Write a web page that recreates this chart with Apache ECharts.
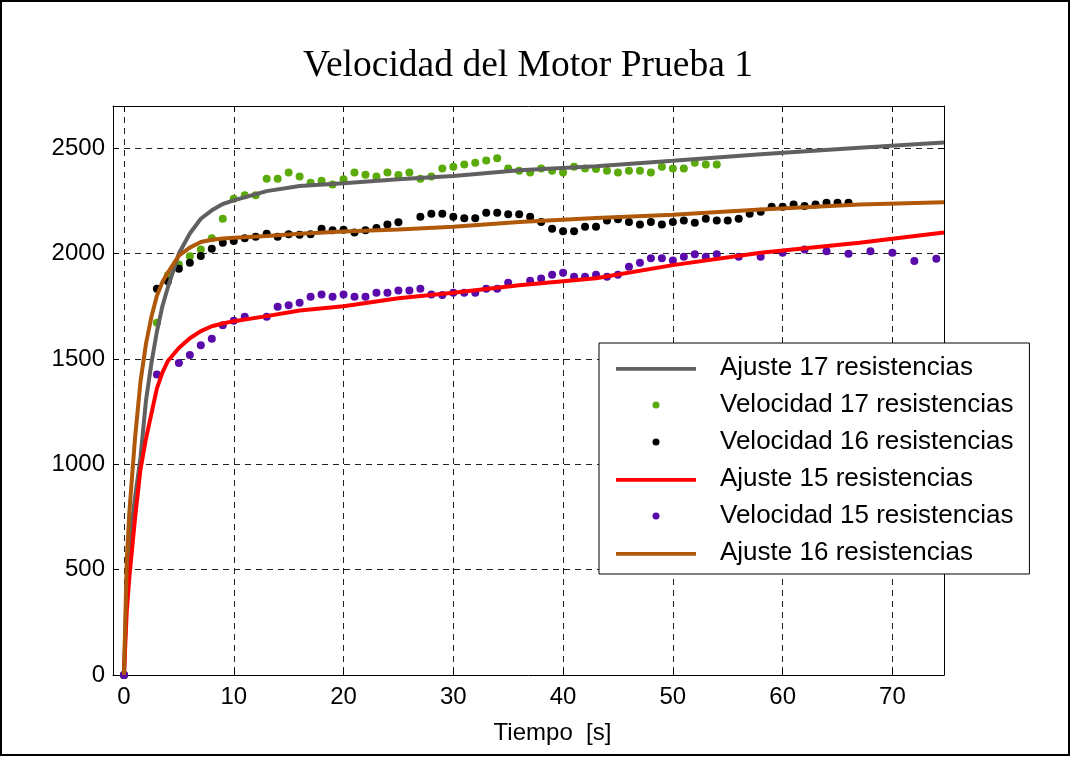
<!DOCTYPE html>
<html>
<head>
<meta charset="utf-8">
<script src="https://cdn.jsdelivr.net/npm/echarts@6/dist/echarts.min.js"></script>
<style>
  html, body { margin: 0; padding: 0; background: #fff; }
  #chart { width: 1071px; height: 757px; }
</style>
</head>
<body>
<div id="chart"></div>
<script>
// fitted curves (Ajuste), sampled at fitTime
const fitTime = [0, 0.25, 0.5, 1, 1.5, 2, 2.5, 3, 3.5, 4, 5, 6, 7, 8, 9, 10, 13, 16, 20, 25, 30, 36, 43, 50, 58, 67, 74.7]
const fit17 = [0, 430, 620, 840, 1030, 1300, 1480, 1630, 1750, 1840, 2000, 2095, 2165, 2205, 2235, 2252, 2296, 2320, 2334, 2352, 2368, 2395, 2414, 2440, 2471, 2502, 2527]
const fit16 = [0, 540, 780, 1120, 1390, 1570, 1700, 1800, 1865, 1910, 1990, 2028, 2055, 2065, 2071, 2075, 2083, 2094, 2104, 2114, 2127, 2149, 2169, 2184, 2209, 2233, 2243]
const fit15 = [0, 300, 470, 740, 975, 1120, 1240, 1360, 1435, 1490, 1552, 1598, 1632, 1655, 1668, 1679, 1703, 1730, 1750, 1788, 1814, 1849, 1883, 1945, 2004, 2051, 2100]

// measured speeds (Velocidad)
const vel17Time = [0, 3, 4, 5, 6, 7, 8, 9, 10, 11, 12, 13, 14, 15, 16, 17, 18, 19, 20, 21, 22, 23, 24, 25, 26, 27, 28, 29, 30, 31, 32, 33, 34, 35, 36, 37, 38, 39, 40, 41, 42, 43, 44, 45, 46, 47, 48, 49, 50, 51, 52, 53, 54]
const vel17 = [0, 1671, 1897, 1948, 1987, 2019, 2072, 2165, 2260, 2277, 2277, 2355, 2355, 2385, 2365, 2336, 2345, 2327, 2353, 2384, 2374, 2365, 2384, 2372, 2384, 2355, 2366, 2403, 2412, 2422, 2431, 2441, 2452, 2404, 2393, 2384, 2404, 2393, 2384, 2412, 2403, 2401, 2393, 2384, 2393, 2393, 2384, 2412, 2404, 2403, 2431, 2422, 2422]

const vel16Time = [0, 3, 4, 5, 6, 7, 8, 9, 10, 11, 12, 13, 14, 15, 16, 17, 18, 19, 20, 21, 22, 23, 24, 25, 27, 28, 29, 30, 31, 32, 33, 34, 35, 36, 37, 38, 39, 40, 41, 42, 43, 44, 45, 46, 47, 48, 49, 50, 51, 52, 53, 54, 55, 56, 57, 58, 59, 60, 61, 62, 63, 64, 65, 66]
const vel16 = [0, 1833, 1869, 1928, 1956, 1988, 2023, 2051, 2059, 2072, 2080, 2094, 2080, 2092, 2089, 2091, 2118, 2110, 2113, 2100, 2111, 2121, 2138, 2148, 2175, 2189, 2189, 2175, 2167, 2167, 2194, 2194, 2186, 2186, 2175, 2149, 2118, 2106, 2106, 2127, 2127, 2157, 2163, 2149, 2138, 2149, 2138, 2149, 2157, 2146, 2165, 2157, 2157, 2165, 2189, 2198, 2222, 2222, 2233, 2225, 2233, 2241, 2241, 2241]

const vel15Time = [0, 3, 5, 6, 7, 8, 9, 10, 11, 13, 14, 15, 16, 17, 18, 19, 20, 21, 22, 23, 24, 25, 26, 27, 28, 29, 30, 31, 32, 33, 34, 35, 37, 38, 39, 40, 41, 42, 43, 44, 45, 46, 47, 48, 49, 50, 51, 52, 53, 54, 56, 58, 60, 62, 64, 66, 68, 70, 72, 74]
const vel15 = [0, 1426, 1481, 1518, 1565, 1595, 1660, 1681, 1700, 1700, 1747, 1755, 1766, 1795, 1806, 1795, 1806, 1795, 1795, 1814, 1814, 1825, 1825, 1833, 1806, 1803, 1814, 1814, 1814, 1833, 1833, 1861, 1871, 1882, 1899, 1909, 1890, 1890, 1899, 1890, 1899, 1937, 1956, 1977, 1977, 1967, 1985, 1996, 1985, 1996, 1985, 1985, 2004, 2019, 2011, 1999, 2011, 2004, 1964, 1975]

const xTicks = [0, 10, 20, 30, 40, 50, 60, 70]
const yTicks = [0, 500, 1000, 1500, 2000, 2500]

const names = [
	'Ajuste 17 resistencias',
	'Velocidad 17 resistencias',
	'Velocidad 16 resistencias',
	'Ajuste 15 resistencias',
	'Velocidad 15 resistencias',
	'Ajuste 16 resistencias'
]

const pair = (xs, ys) => xs.map((x, i) => [x, ys[i]])

const sans = 'Liberation Sans, Arial, sans-serif'
const gridLine = { show: true, lineStyle: { color: '#222', type: [6, 5], width: 1 } }
const inTick = { show: true, inside: true, length: 6, lineStyle: { color: '#000' } }
// thin bar for the fit entries in the legend (first point keeps the box 7px tall)
const lineIcon = 'path://M0,0L0,0ZM0,1.6L80,1.6L80,5.4L0,5.4Z'

const lineSeries = (name, ys, color) => ({
	name, type: 'line', data: pair(fitTime, ys), symbol: 'none',
	lineStyle: { color, width: 4 }, itemStyle: { color }
})
const dotSeries = (name, xs, ys, color) => ({
	name, type: 'scatter', data: pair(xs, ys), symbol: 'circle', symbolSize: 8,
	itemStyle: { color, opacity: 1 }
})

const chart = echarts.init(document.getElementById('chart'))
chart.setOption({
	animation: false,
	backgroundColor: '#fff',
	title: {
		text: 'Velocidad del Motor Prueba 1',
		left: 523, top: 42, textAlign: 'center',
		textStyle: { fontFamily: 'Liberation Serif, Times New Roman, serif', fontWeight: 'normal', fontSize: 37.5, color: '#000' }
	},
	graphic: [{
		type: 'rect', shape: { x: 1, y: 1, width: 1068, height: 754 },
		style: { fill: null, stroke: '#000', lineWidth: 2 }, silent: true
	}],
	grid: { left: 113, top: 106, width: 831, height: 569, containLabel: false },
	legend: {
		orient: 'vertical', left: 599, top: 343,
		itemWidth: 80, itemHeight: 7, itemGap: 11,
		padding: [12, 16, 8, 17],
		borderColor: '#000', borderWidth: 1, backgroundColor: '#fff',
		textStyle: { fontFamily: sans, fontSize: 26, color: '#000', lineHeight: 26, padding: [0, 0, 0, 19] },
		data: names.map(n => n.startsWith('Ajuste') ? { name: n, icon: lineIcon } : { name: n, icon: 'circle' })
	},
	xAxis: [{
		type: 'value', min: -1, max: 74.7, position: 'bottom',
		name: 'Tiempo  [s]', nameLocation: 'middle', nameGap: 46,
		nameTextStyle: { fontFamily: sans, fontSize: 24, color: '#000', padding: [0, 0, 0, 48] },
		axisLine: { show: true, onZero: false, lineStyle: { color: '#000', width: 1 } },
		axisTick: Object.assign({ customValues: xTicks }, inTick),
		axisLabel: { customValues: xTicks, fontFamily: sans, fontSize: 24, color: '#000', margin: 10 },
		splitLine: Object.assign({ customValues: xTicks }, gridLine)
	}, {
		type: 'value', min: -1, max: 74.7, position: 'top',
		axisLine: { show: true, onZero: false, lineStyle: { color: '#000', width: 1 } },
		axisTick: Object.assign({ customValues: xTicks }, inTick),
		axisLabel: { show: false },
		splitLine: { show: false }
	}],
	yAxis: [{
		type: 'value', min: 0, max: 2700, position: 'left',
		axisLine: { show: true, onZero: false, lineStyle: { color: '#000', width: 1 } },
		axisTick: Object.assign({ customValues: yTicks }, inTick),
		axisLabel: { customValues: yTicks, formatter: v => String(v), fontFamily: sans, fontSize: 24, color: '#000', margin: 8 },
		splitLine: Object.assign({ customValues: yTicks }, gridLine)
	}, {
		type: 'value', min: 0, max: 2700, position: 'right',
		axisLine: { show: true, onZero: false, lineStyle: { color: '#000', width: 1 } },
		axisTick: Object.assign({ customValues: yTicks }, inTick),
		axisLabel: { show: false },
		splitLine: { show: false }
	}],
	series: [
		lineSeries(names[0], fit17, '#606060'),
		dotSeries(names[1], vel17Time, vel17, '#5aaa0a'),
		dotSeries(names[2], vel16Time, vel16, '#000000'),
		lineSeries(names[3], fit15, '#ff0000'),
		dotSeries(names[4], vel15Time, vel15, '#5a0aaa'),
		lineSeries(names[5], fit16, '#b0580a')
	]
})
</script>
</body>
</html>
